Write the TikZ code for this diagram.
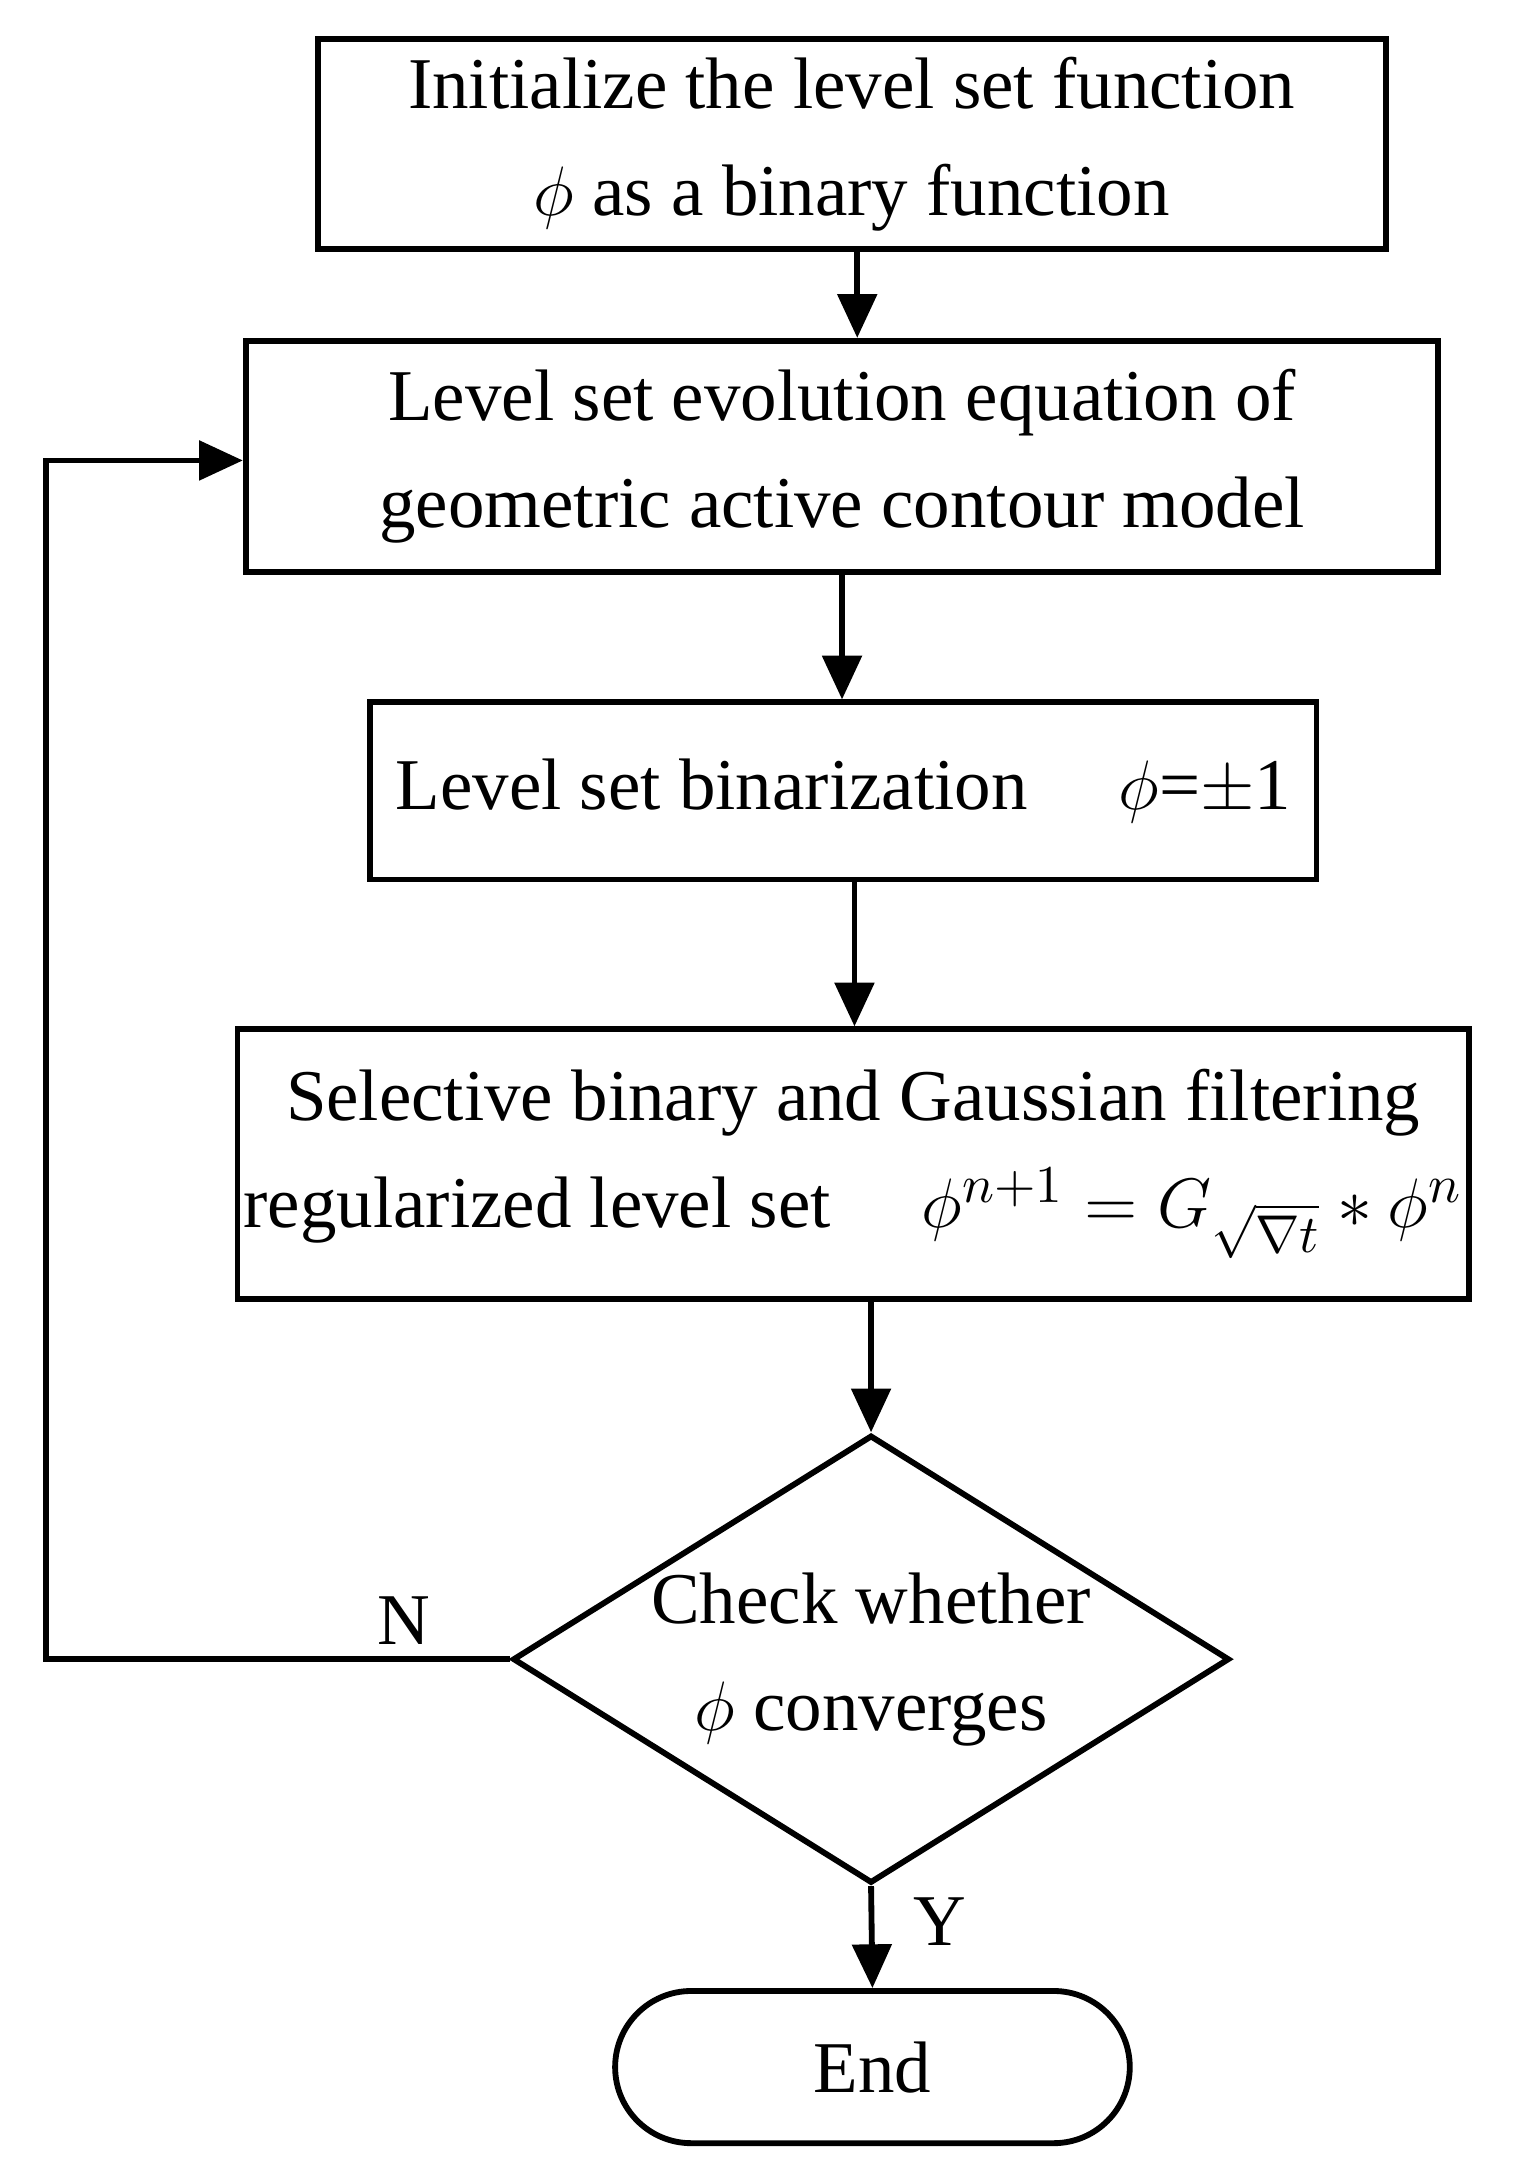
\documentclass[tikz,border=0pt]{standalone}
\usepackage{fontspec}
\setmainfont{Liberation Serif}
\usetikzlibrary{shapes.geometric,arrows.meta}

\begin{document}
\begin{tikzpicture}[x=0.01cm,y=-0.01cm,% pixel-like units, y downward
      every node/.style={
        align=center,     % line breaks with "\\"
        font=\fontsize{15}{22}\selectfont
      },
      box/.style={rectangle,draw=black,line width=1.2pt,inner sep=0pt},
      flow/.style={-{Triangle[length=9pt,width=8pt]},line width=1.2pt}
    ]
    \useasboundingbox (0,0) rectangle (1100,1568);
    \node[box,minimum width=7.72cm,minimum height=1.52cm](Init) at (616,104){Initialize the level set function \\ $\phi$ as a binary function};
    \node[box,minimum width=8.62cm,minimum height=1.67cm](Evol) at (609,330){Level set evolution equation of \\ geometric active contour model};
    \node[box,minimum width=6.84cm,minimum height=1.28cm](Bin) at (610,572){Level set binarization \quad $\phi$=$\pm$1};
    \node[box,minimum width=8.90cm,minimum height=1.95cm](Filt) at (617,842){Selective binary and Gaussian filtering \\ regularized level set \quad $\phi^{n+1}=G_{\sqrt{\nabla t}}*\phi^{n}$};
    \node[diamond,draw=black,line width=1.2pt,shape aspect=1.6,inner sep=0pt,minimum width=5.16cm,minimum height=3.2cm](Check) at (630,1200){Check whether \\ $\phi$ converges};
    \node[rectangle,rounded corners=0.55cm,draw=black,line width=1.2pt,minimum width=3.72cm,minimum height=1.1cm](End) at (631,1495){End};
    \coordinate (Loop) at (33,1200);
    \draw[flow] (Init.south -| 620,0) -- (Evol.north -| 620,0);
    \draw[flow] (Evol.south) -- (Bin.north -| Evol.south);
    \draw[flow] (Bin.south -| 618,0) -- (Filt.north -| 618,0);
    \draw[flow] (Filt.south -| Check.north) -- (Check.north);
    \draw[flow] (Check.south) -- (End.north);
    \draw[flow] (Check.west) -- (Loop) |- (Evol.west |- 0,333);
    \node at (292,1172){N};
    \node at (680,1390){Y};
  \end{tikzpicture}
\end{document}
